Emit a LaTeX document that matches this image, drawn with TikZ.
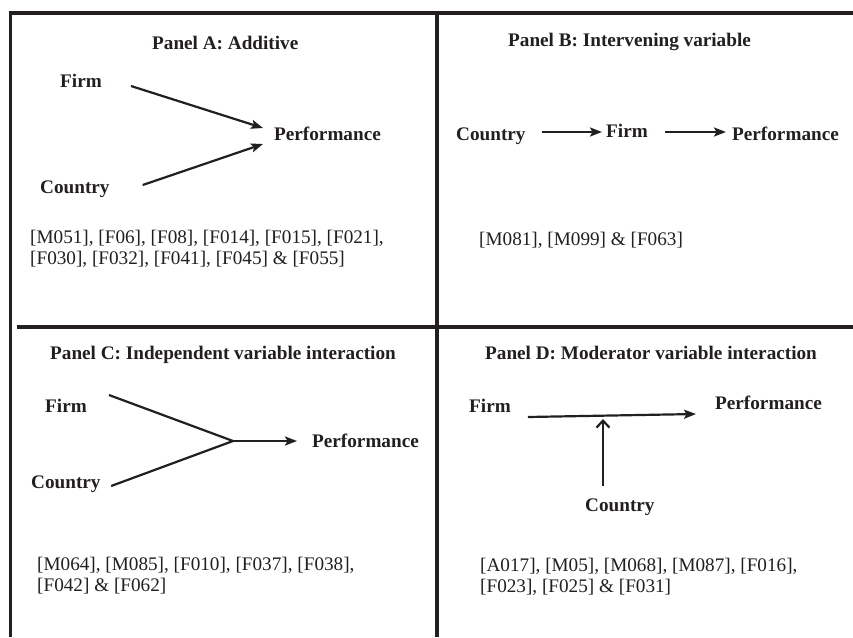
\documentclass[tikz,border=0pt]{standalone}
\usepackage{fontspec}
\setmainfont{Liberation Serif}
\usetikzlibrary{arrows.meta}
\definecolor{ink}{HTML}{231F20}
\begin{document}
\begin{tikzpicture}[x=1pt,y=-1pt, color=ink, text=ink,
  lbl/.style={font=\fontsize{19.2}{21}\selectfont\bfseries, inner sep=0pt, anchor=base west},
  cite/.style={font=\fontsize{19.2}{20.5}\selectfont, inner sep=0pt, anchor=north west, align=left},
  border/.style={line width=3.8pt},
  arr/.style={line width=2.2pt, -{Stealth[length=12pt,width=9pt,inset=2.5pt]}},
  ln/.style={line width=2.2pt, line join=miter}]
\useasboundingbox (0,0) rectangle (853,637);
\fill[white] (0,0) rectangle (853,637);

% borders
\draw[border] (8.5,13) -- (853,13);
\draw[border] (10.5,13) -- (10.5,637);
\draw[border] (437,13) -- (437,637);
\draw[border] (17,327) -- (853,327);

% Panel A
\node[lbl] (tA) at (152,49) {Panel A: Additive};
\node[lbl] (firmA) at (60,87) {Firm};
\node[lbl] (countryA) at (40,193) {Country};
\node[lbl] (perfA) at (274,140) {Performance};
\node[cite] (citeA) at (30,230) {[M051], [F06], [F08], [F014], [F015], [F021],\\{}[F030], [F032], [F041], [F045] \& [F055]};
\draw[arr] ([shift={(29,-1)}]firmA.base east) -- ([shift={(-11,-12)}]perfA.base west);
\draw[arr] ([shift={(33,-8)}]countryA.base east) -- ([shift={(-11,4)}]perfA.base west);

% Panel B
\node[lbl] (tB) at (508,46.5) {Panel B: Intervening variable};
\node[lbl] (countryB) at (456,140.5) {Country};
\node[lbl] (firmB) at (606,137) {Firm};
\node[lbl] (perfB) at (732,140) {Performance};
\node[cite] (citeB) at (479,232) {[M081], [M099] \& [F063]};
\draw[arr] ([shift={(16,-8.5)}]countryB.base east) -- ([shift={(-4,-5)}]firmB.base west);
\draw[arr] ([shift={(17,-5)}]firmB.base east) -- ([shift={(-6,-8)}]perfB.base west);

% Panel C
\node[lbl] (tC) at (50,359) {Panel C: Independent variable interaction};
\node[lbl] (firmC) at (45,412.7) {Firm};
\node[lbl] (countryC) at (31,488) {Country};
\node[lbl] (perfC) at (312,447) {Performance};
\coordinate (jC) at (233,441);
\draw[ln] ([shift={(22,-17.7)}]firmC.base east) -- (jC) -- ([shift={(10.4,-2)}]countryC.base east);
\draw[arr] (jC) -- ([shift={(-15,-6)}]perfC.base west);
\node[cite] (citeC) at (37,557) {[M064], [M085], [F010], [F037], [F038],\\{}[F042] \& [F062]};

% Panel D
\node[lbl] (tD) at (485,359.5) {Panel D: Moderator variable interaction};
\node[lbl] (firmD) at (469,412) {Firm};
\node[lbl] (perfD) at (715,409) {Performance};
\node[lbl] (countryD) at (585,511) {Country};
\draw[arr] ([shift={(17,5)}]firmD.base east) -- ([shift={(-19,5)}]perfD.base west);
\draw[line width=2.2pt, -{Straight Barb[length=7pt,width=13pt]}] ([shift={(18,-25)}]countryD.base west) -- ([shift={(18,-92)}]countryD.base west);
\node[cite] (citeD) at (480,558) {[A017], [M05], [M068], [M087], [F016],\\{}[F023], [F025] \& [F031]};
\end{tikzpicture}
\end{document}
